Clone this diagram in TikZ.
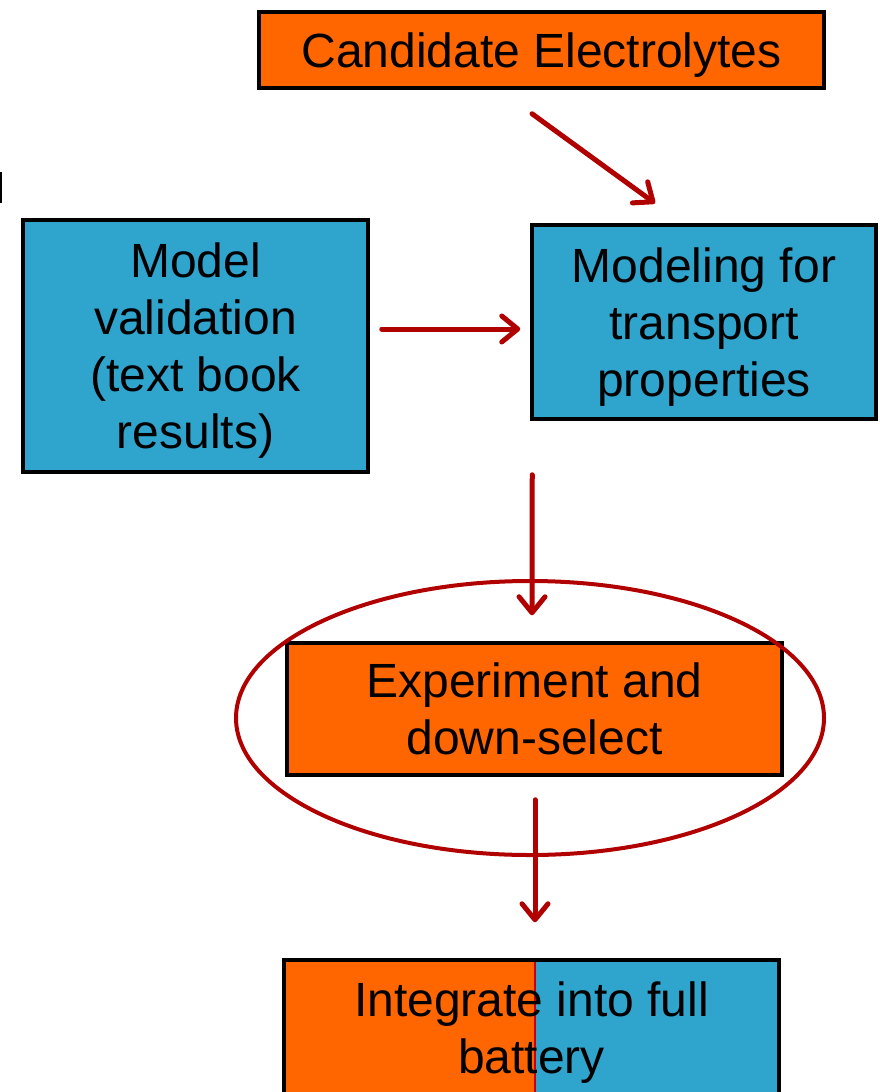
\documentclass[tikz,border=0pt]{standalone}
\usepackage{fontspec}
\setmainfont{Liberation Sans}
\usetikzlibrary{arrows.meta}
\definecolor{kastenorange}{RGB}{255,102,0}
\definecolor{kastenblau}{RGB}{47,164,204}
\definecolor{pfeilrot}{RGB}{176,0,0}

\begin{document}
\begin{tikzpicture}[x=1pt, y=-1pt,
	kasten/.style={draw=black, line width=3.5pt, align=center, inner sep=0pt,
		text depth=0pt, font=\fontsize{48}{57}\selectfont},
	pfeil/.style={draw=pfeilrot, line width=5pt, line cap=round,
		-{Straight Barb[round, length=16pt, width=26pt]}},
	ring/.style={draw=pfeilrot, line width=4pt}]
	\useasboundingbox (0,0) rectangle (879,1092);
	% Rest am linken Rand
	\draw[line width=2pt] (1,172) -- (1,203);
	% Kaesten
	\node[kasten, fill=kastenorange, minimum width=565pt, minimum height=76pt]
		(kandidaten) at (541.5,50) {Candidate Electrolytes};
	\node[kasten, fill=kastenblau, minimum width=345pt, minimum height=252pt]
		(validierung) at (195.5,346) {Model\\validation\\(text book\\results)};
	\node[kasten, fill=kastenblau, minimum width=344pt, minimum height=194pt]
		(modell) at (704,322) {Modeling for\\transport\\properties};
	\node[kasten, fill=kastenorange, minimum width=495pt, minimum height=132pt]
		(experiment) at (534.5,709) {Experiment and\\down-select};
	\node[kasten, fill=kastenblau, minimum width=495pt, minimum height=136pt,
		path picture={
			\fill[kastenorange] (path picture bounding box.south west)
				rectangle ([xshift=3.5pt]path picture bounding box.north);
			\draw[red!80!black, line width=1.5pt]
				([xshift=3.5pt]path picture bounding box.north)
				-- ([xshift=3.5pt]path picture bounding box.south);
		}]
		(batterie) at (531.5,1028) {Integrate into full\\battery};
	% Ellipse um den Versuch
	\draw[ring] (530,718) ellipse [x radius=294pt, y radius=137pt];
	% Pfeile
	\draw[pfeil] ([xshift=-9.5pt, yshift=-24pt]kandidaten.south)
		-- ([xshift=-49pt, yshift=20pt]modell.north);
	\draw[pfeil] ([xshift=12pt, yshift=17pt]validierung.east)
		-- ([xshift=-10pt, yshift=-7pt]modell.west);
	\draw[pfeil] ([xshift=2pt, yshift=-54pt]modell.south west)
		-- ([xshift=-2.5pt, yshift=26pt]experiment.north);
	\draw[pfeil] ([xshift=0.5pt, yshift=-23pt]experiment.south)
		-- ([xshift=3.5pt, yshift=36pt]batterie.north);
\end{tikzpicture}
\end{document}
